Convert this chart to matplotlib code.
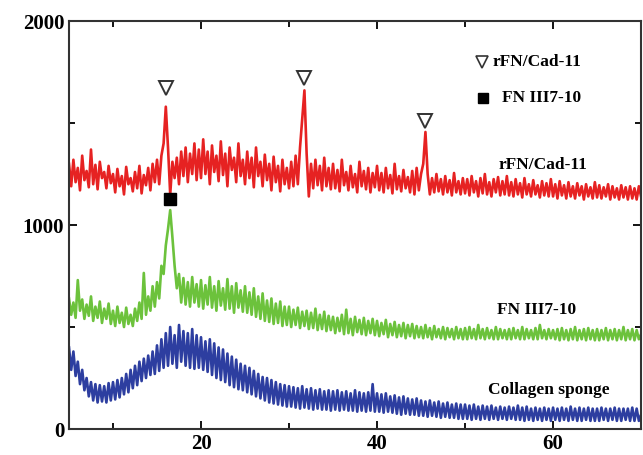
import numpy as np
import matplotlib.pyplot as plt
from matplotlib.ticker import MultipleLocator

# 2-theta grid, 0.25 deg steps from 5 to 70
two_theta = np.arange(5, 70.01, 0.25)

# rFN/Cad-11 (red)
rfn_cad = [
    1300, 1190, 1320, 1210, 1280, 1170, 1340, 1220, 1265, 1185, 1370, 1200, 1295, 1175, 1310, 1230, 1260, 1180, 1290, 1205,
    1250, 1160, 1275, 1190, 1240, 1150, 1285, 1200, 1230, 1165, 1260, 1180, 1290, 1155, 1245, 1195, 1280, 1170, 1300, 1210,
    1320, 1200, 1340, 1400, 1580, 1380, 1150, 1310, 1230, 1330, 1200, 1360, 1240, 1380, 1210, 1350, 1250, 1400, 1220, 1370,
    1230, 1420, 1250, 1360, 1200, 1390, 1260, 1340, 1215, 1410, 1245, 1350, 1190, 1380, 1270, 1330, 1210, 1400, 1240, 1320,
    1200, 1360, 1230, 1330, 1185, 1380, 1240, 1310, 1190, 1345, 1220, 1300, 1170, 1335, 1210, 1290, 1165, 1320, 1200, 1280,
    1180, 1310, 1190, 1340, 1200, 1380, 1520, 1660, 1350, 1140, 1300, 1180, 1320, 1195, 1290, 1170, 1330, 1190, 1280, 1175,
    1300, 1180, 1270, 1165, 1320, 1195, 1260, 1170, 1290, 1185, 1250, 1160, 1310, 1190, 1265, 1175, 1280, 1160, 1255, 1185,
    1290, 1170, 1255, 1160, 1280, 1180, 1245, 1155, 1300, 1175, 1240, 1165, 1270, 1180, 1235, 1160, 1265, 1150, 1280, 1170,
    1250, 1300, 1456, 1250, 1150, 1230, 1160, 1250, 1165, 1225, 1150, 1240, 1160, 1220, 1145, 1255, 1160, 1215, 1150, 1230,
    1155, 1225, 1145, 1240, 1160, 1215, 1140, 1230, 1155, 1250, 1150, 1210, 1140, 1225, 1160, 1235, 1145, 1215, 1150, 1240,
    1145, 1210, 1140, 1225, 1150, 1205, 1135, 1230, 1150, 1200, 1140, 1220, 1150, 1195, 1135, 1215, 1145, 1205, 1140, 1225,
    1140, 1200, 1130, 1215, 1145, 1195, 1130, 1210, 1140, 1190, 1130, 1205, 1145, 1190, 1125, 1200, 1140, 1185, 1130, 1210,
    1135, 1195, 1130, 1185, 1140, 1200, 1125, 1190, 1135, 1180, 1125, 1195, 1135, 1185, 1125, 1190, 1130, 1180, 1125, 1190,
    1140,
]

# FN III7-10 (green)
fn_iii = [
    640, 560, 620, 545, 730, 580, 635, 540, 610, 555, 650, 530, 600, 545, 625, 520, 590, 540, 615, 515,
    580, 505, 600, 520, 570, 500, 595, 515, 560, 505, 590, 530, 620, 540, 765, 560, 650, 580, 700, 600,
    720, 640, 800, 760, 900, 980, 1073, 940, 800, 690, 760, 620, 740, 610, 720, 600, 745, 620, 710, 600,
    730, 590, 705, 610, 745, 595, 700, 580, 725, 605, 690, 585, 735, 590, 700, 570, 715, 595, 680, 575,
    700, 570, 670, 560, 690, 550, 650, 540, 665, 530, 630, 525, 640, 515, 615, 520, 625, 505, 600, 510,
    600, 500, 585, 510, 595, 495, 575, 505, 580, 490, 570, 495, 590, 485, 560, 490, 575, 480, 555, 485,
    550, 470, 545, 480, 560, 465, 585, 470, 540, 460, 550, 475, 535, 465, 545, 460, 530, 470, 540, 460,
    530, 455, 520, 465, 535, 450, 515, 460, 525, 450, 510, 455, 520, 445, 510, 455, 515, 445, 505, 450,
    500, 445, 510, 450, 495, 440, 505, 450, 490, 445, 500, 440, 495, 450, 490, 440, 500, 445, 490, 440,
    495, 440, 500, 445, 490, 440, 510, 445, 490, 440, 495, 445, 485, 440, 500, 440, 490, 445, 485, 440,
    490, 440, 495, 445, 485, 440, 500, 440, 490, 445, 485, 440, 495, 440, 510, 445, 485, 440, 490, 445,
    485, 440, 490, 435, 495, 440, 485, 435, 490, 440, 500, 435, 485, 440, 490, 435, 495, 440, 485, 435,
    490, 435, 485, 440, 495, 435, 485, 440, 490, 435, 485, 440, 500, 435, 485, 440, 490, 435, 485, 440,
    465,
]

# Collagen sponge (blue)
collagen = [
    400, 290, 380, 260, 330, 220, 290, 190, 250, 160, 230, 140, 220, 130, 215, 135, 210, 130, 225, 140,
    230, 145, 240, 155, 250, 170, 270, 180, 290, 200, 310, 215, 330, 235, 345, 250, 360, 265, 380, 270,
    410, 285, 440, 300, 470, 310, 500, 320, 460, 300, 510, 330, 480, 310, 470, 300, 490, 295, 460, 300,
    450, 290, 430, 280, 440, 265, 420, 250, 400, 240, 390, 230, 370, 215, 355, 205, 340, 195, 320, 190,
    310, 180, 300, 170, 285, 160, 270, 150, 255, 140, 250, 130, 240, 125, 230, 120, 220, 115, 215, 110,
    210, 110, 205, 105, 200, 100, 210, 105, 195, 100, 200, 95, 190, 100, 195, 95, 185, 95, 190, 90,
    185, 95, 190, 90, 180, 95, 185, 90, 175, 90, 190, 85, 180, 90, 175, 85, 180, 90, 220, 85,
    175, 85, 170, 80, 175, 85, 160, 80, 165, 75, 155, 70, 160, 75, 150, 70, 145, 70, 150, 65,
    140, 65, 135, 60, 140, 65, 130, 60, 135, 55, 125, 60, 130, 55, 120, 55, 125, 50, 120, 50,
    120, 50, 115, 45, 120, 50, 110, 45, 115, 50, 110, 45, 115, 50, 105, 45, 110, 50, 105, 45,
    110, 50, 105, 45, 115, 45, 105, 40, 110, 45, 100, 40, 105, 45, 100, 40, 105, 45, 100, 40,
    105, 45, 100, 40, 105, 45, 100, 40, 110, 45, 100, 40, 105, 40, 100, 45, 105, 40, 100, 40,
    100, 40, 105, 45, 100, 40, 100, 45, 105, 40, 100, 40, 100, 45, 100, 40, 105, 40, 100, 40,
    70,
]

# peak markers
tri_x = [16.0, 31.75, 45.5]
tri_y = [1672, 1720, 1510]
sq_x = [16.5]
sq_y = [1127]

plt.rcParams['font.family'] = 'Liberation Serif'
plt.rcParams['font.weight'] = 'bold'

fig = plt.figure(figsize=(6.43, 4.55), dpi=100)
ax = fig.add_axes([0.1073, 0.0571, 0.8897, 0.8967])

ax.plot(two_theta, rfn_cad, color='#e62222', lw=1.9)
ax.plot(two_theta, fn_iii, color='#6cc23c', lw=1.9)
ax.plot(two_theta, collagen, color='#2d3ea0', lw=1.9)

ax.plot(tri_x, tri_y, 'v', ms=10, mfc='white', mec='#333333', mew=1.4, ls='none')
ax.plot(sq_x, sq_y, 's', ms=9, color='black', ls='none')

# legend keys drawn by hand
ax.plot([51.9], [1799], 'v', ms=8, mfc='white', mec='#333333', mew=1.2)
ax.text(53.1, 1799, 'rFN/Cad-11', fontsize=12.5, fontweight='bold', va='center')
ax.plot([52.0], [1623], 's', ms=7, color='black')
ax.text(54.2, 1623, 'FN III7-10', fontsize=12.5, fontweight='bold', va='center')

ax.text(53.75, 1294, 'rFN/Cad-11', fontsize=12.5, fontweight='bold', va='center')
ax.text(53.6, 583, 'FN III7-10', fontsize=12.5, fontweight='bold', va='center')
ax.text(52.6, 191, 'Collagen sponge', fontsize=12.5, fontweight='bold', va='center')

ax.set_xlim(5, 70)
ax.set_ylim(0, 2000)
ax.xaxis.set_major_locator(MultipleLocator(20))
ax.xaxis.set_minor_locator(MultipleLocator(10))
ax.yaxis.set_major_locator(MultipleLocator(1000))
ax.yaxis.set_minor_locator(MultipleLocator(500))
ax.tick_params(which='both', direction='in', top=True, right=True, width=1.3, labelsize=15)
ax.tick_params(which='major', length=6)
ax.tick_params(which='minor', length=4)
for s in ax.spines.values():
    s.set_linewidth(1.5)
    s.set_color('#333333')
for lab in ax.get_xticklabels() + ax.get_yticklabels():
    lab.set_fontweight('bold')

fig.savefig('out.png', dpi=100)
